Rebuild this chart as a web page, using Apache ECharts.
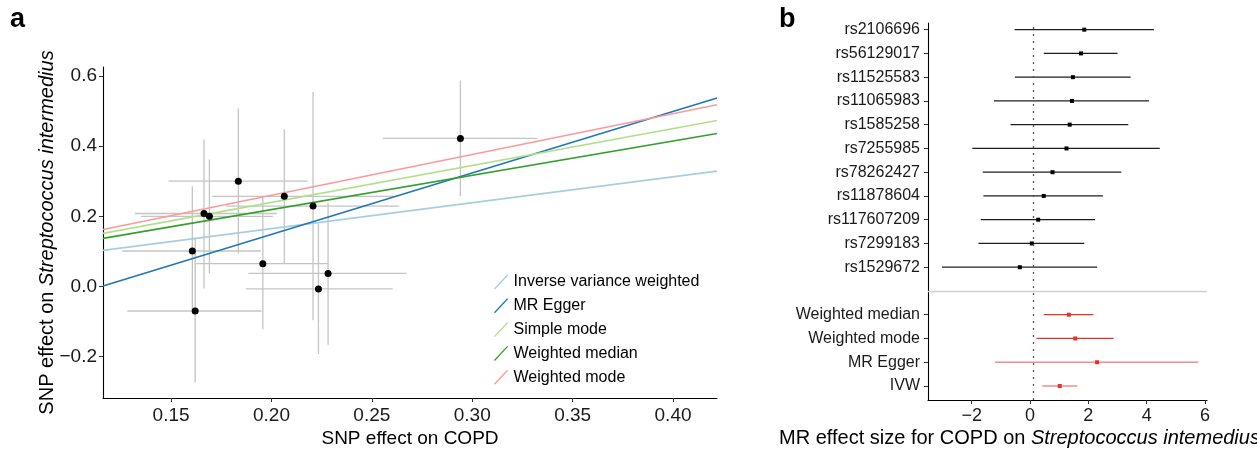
<!DOCTYPE html>
<html>
<head>
<meta charset="utf-8">
<script src="https://cdn.jsdelivr.net/npm/echarts@6/dist/echarts.min.js"></script>
<style>
  html, body { margin: 0; padding: 0; background: #fff; }
  #chart { width: 1257px; height: 451px; }
</style>
</head>
<body>
<div id="chart"></div>
<script>
// ---- panel a: SNP effects ----
const snpX = [0.1606, 0.1664, 0.1691, 0.1835, 0.2064, 0.2207, 0.1957, 0.2282, 0.2234, 0.1620, 0.2941];
const snpY = [0.101, 0.208, 0.200, 0.300, 0.257, 0.229, 0.065, 0.037, -0.007, -0.070, 0.422];
const snpXLo = [0.1257, 0.1320, 0.1349, 0.1487, 0.1706, 0.1774, 0.1624, 0.1885, 0.1872, 0.1282, 0.2554];
const snpXHi = [0.1947, 0.2027, 0.2007, 0.2180, 0.2624, 0.2636, 0.2283, 0.2673, 0.2604, 0.1951, 0.3324];
const snpYLo = [-0.067, -0.006, 0.037, 0.094, 0.067, -0.096, -0.122, -0.167, -0.193, -0.274, 0.257];
const snpYHi = [0.286, 0.419, 0.362, 0.507, 0.448, 0.554, 0.255, 0.238, 0.179, 0.139, 0.587];

const methods = ["Inverse variance weighted", "MR Egger", "Simple mode", "Weighted median", "Weighted mode"];
const slopes = [0.739, 1.753, 1.053, 0.978, 1.164];
const intercepts = [0.017, -0.2025, 0.029, 0.0235, 0.027];

const aXTicks = [0.15, 0.20, 0.25, 0.30, 0.35, 0.40];
const aYTicks = [-0.2, 0.0, 0.2, 0.4, 0.6];

// ---- panel b: forest plot ----
const snpNames = ["rs2106696", "rs56129017", "rs11525583", "rs11065983", "rs1585258", "rs7255985",
  "rs78262427", "rs11878604", "rs117607209", "rs7299183", "rs1529672"];
const snpBeta = [1.86, 1.75, 1.47, 1.44, 1.36, 1.25, 0.77, 0.47, 0.28, 0.06, -0.35];
const snpLo = [-0.53, 0.47, -0.52, -1.24, -0.67, -1.98, -1.62, -1.60, -1.69, -1.77, -3.02];
const snpHi = [4.25, 3.00, 3.45, 4.08, 3.37, 4.45, 3.13, 2.50, 2.23, 1.86, 2.30];

const mrNames = ["Weighted median", "Weighted mode", "MR Egger", "IVW"];
const mrBeta = [1.33, 1.55, 2.30, 1.02];
const mrLo = [0.47, 0.22, -1.20, 0.42];
const mrHi = [2.17, 2.87, 5.77, 1.62];

const bXTicks = [-2, 0, 2, 4, 6];
const refLine = 0.1;

// rows top -> bottom, blank row is the separator
const rowNames = snpNames.concat([""], mrNames);
const rowIndex = (name) => rowNames.length - 1 - rowNames.indexOf(name);
const sepRow = rowIndex("");
const labelRows = rowNames.map((n, i) => rowNames.length - 1 - i).filter((r) => r !== sepRow);

const FONT = "Liberation Sans, Arial, Helvetica, sans-serif";
const minus = (s) => s.replace("-", "\u2212");

const aXMin = 0.1161, aXMax = 0.4219;
const lineColors = ["#a6cee3", "#1f78b4", "#b2df8a", "#33a02c", "#fb9a99"];

const chart = echarts.init(document.getElementById("chart"));

const errBarA = (params, api) => {
  const y = api.value(1), x = api.value(0);
  const l = api.coord([api.value(2), y]), r = api.coord([api.value(3), y]);
  const b = api.coord([x, api.value(4)]), t = api.coord([x, api.value(5)]);
  const st = { stroke: "#c4c4c4", lineWidth: 1.3 };
  return {
    type: "group",
    children: [
      { type: "line", shape: { x1: l[0], y1: l[1], x2: r[0], y2: r[1] }, style: st },
      { type: "line", shape: { x1: b[0], y1: b[1], x2: t[0], y2: t[1] }, style: st },
    ],
  };
};

const errBarB = (color) => (params, api) => {
  const row = api.value(2);
  const l = api.coord([api.value(0), row]), r = api.coord([api.value(1), row]);
  const c = Array.isArray(color) ? color[params.dataIndex] : color;
  return { type: "line", shape: { x1: l[0], y1: l[1], x2: r[0], y2: r[1] }, style: { stroke: c, lineWidth: 1.3 } };
};

const axisCommon = {
  axisLine: { show: true, onZero: false, lineStyle: { color: "#000", width: 1.1 } },
  axisTick: { show: true, length: 4, lineStyle: { color: "#333", width: 1 } },
  splitLine: { show: false },
  nameMoveOverlap: false,
};

const option = {
  animation: false,
  textStyle: { fontFamily: FONT },
  grid: [
    { left: 103, right: 540, top: 67, bottom: 53, containLabel: false, outerBoundsMode: "none" },
    { left: 928, right: 50, top: 23, bottom: 51, containLabel: false, outerBoundsMode: "none" },
  ],
  xAxis: [
    Object.assign({}, axisCommon, {
      type: "value", gridIndex: 0, min: aXMin, max: aXMax,
      axisTick: Object.assign({}, axisCommon.axisTick, { customValues: aXTicks }),
      axisLabel: { customValues: aXTicks, formatter: (v) => v.toFixed(2), fontSize: 19, color: "#1a1a1a", margin: 8, fontFamily: FONT },
      name: "SNP effect on COPD", nameLocation: "middle", nameGap: 31,
      nameTextStyle: { fontSize: 19, color: "#000", fontFamily: FONT },
    }),
    Object.assign({}, axisCommon, {
      type: "value", gridIndex: 1, min: -3.5, max: 6.07,
      axisTick: Object.assign({}, axisCommon.axisTick, { customValues: bXTicks }),
      axisLabel: { customValues: bXTicks, formatter: (v) => minus(String(v)), fontSize: 18, color: "#1a1a1a", margin: 7, fontFamily: FONT },
    }),
  ],
  yAxis: [
    Object.assign({}, axisCommon, {
      type: "value", gridIndex: 0, min: -0.318, max: 0.6256,
      axisTick: Object.assign({}, axisCommon.axisTick, { customValues: aYTicks }),
      axisLabel: { customValues: aYTicks, formatter: (v) => minus(v.toFixed(1)), fontSize: 19, color: "#1a1a1a", margin: 6, fontFamily: FONT },
      name: "SNP effect on {i|Streptococcus intermedius}", nameLocation: "middle", nameGap: 46,
      nameTextStyle: { fontSize: 20, color: "#000", fontFamily: FONT, rich: { i: { fontStyle: "italic", fontSize: 20, fontFamily: FONT } } },
    }),
    Object.assign({}, axisCommon, {
      type: "value", gridIndex: 1, min: -0.59, max: 15.28,
      axisTick: Object.assign({}, axisCommon.axisTick, { customValues: labelRows }),
      axisLabel: {
        customValues: labelRows,
        formatter: (v) => rowNames[rowNames.length - 1 - Math.round(v)],
        fontSize: 16, color: "#1a1a1a", margin: 8, fontFamily: FONT,
      },
    }),
  ],
  legend: {
    orient: "vertical", left: 489, top: 269, itemGap: 7.8, itemWidth: 15, itemHeight: 15,
    icon: "path://M0,15 L14,0 L15,1 L1,16 Z",
    data: methods,
    textStyle: { fontSize: 16, color: "#000", fontFamily: FONT },
  },
  graphic: [
    { type: "text", left: 10, top: 6, style: { text: "a", fontSize: 27, fontWeight: "bold", fill: "#000", fontFamily: FONT } },
    { type: "text", left: 779, top: 6, style: { text: "b", fontSize: 27, fontWeight: "bold", fill: "#000", fontFamily: FONT } },
    {
      type: "text", left: 779, top: 428,
      style: {
        text: "MR effect size for COPD on {i|Streptococcus intemedius}",
        fontSize: 20, fill: "#000", fontFamily: FONT,
        rich: { i: { fontStyle: "italic", fontSize: 20, fontFamily: FONT, fill: "#000" } },
      },
    },
  ],
  series: [
    {
      type: "custom", xAxisIndex: 0, yAxisIndex: 0, z: 1, silent: true,
      renderItem: errBarA,
      encode: { x: [0, 2, 3], y: [1, 4, 5] },
      data: snpX.map((x, i) => [x, snpY[i], snpXLo[i], snpXHi[i], snpYLo[i], snpYHi[i]]),
    },
    ...methods.map((m, k) => ({
      name: m, type: "line", xAxisIndex: 0, yAxisIndex: 0, z: 2,
      showSymbol: false, symbol: "none", clip: true,
      color: lineColors[k],
      itemStyle: { color: lineColors[k] },
      lineStyle: { color: lineColors[k], width: 1.6 },
      data: [aXMin, aXMax].map((x) => [x, intercepts[k] + slopes[k] * x]),
    })),
    {
      type: "scatter", xAxisIndex: 0, yAxisIndex: 0, z: 3, symbol: "circle", symbolSize: 7,
      itemStyle: { color: "#000", opacity: 1 },
      data: snpX.map((x, i) => [x, snpY[i]]),
    },
    // panel b
    {
      type: "custom", xAxisIndex: 1, yAxisIndex: 1, z: 1, silent: true,
      renderItem: errBarB("#1e1e1e"),
      encode: { x: [0, 1], y: 2 },
      data: snpNames.map((n, i) => [snpLo[i], snpHi[i], rowIndex(n)]),
      markLine: {
        silent: true, symbol: "none", label: { show: false },
        data: [
          { yAxis: sepRow, lineStyle: { color: "#cfcfcf", width: 1.4, type: "solid" } },
          { xAxis: refLine, lineStyle: { color: "#555", width: 1.3, type: [2, 5] } },
        ],
      },
    },
    {
      type: "custom", xAxisIndex: 1, yAxisIndex: 1, z: 1, silent: true,
      renderItem: errBarB(["#e2352a", "#e2352a", "rgba(226,53,42,0.55)", "rgba(226,53,42,0.55)"]),
      encode: { x: [0, 1], y: 2 },
      data: mrNames.map((n, i) => [mrLo[i], mrHi[i], rowIndex(n)]),
    },
    {
      type: "scatter", xAxisIndex: 1, yAxisIndex: 1, z: 3, symbol: "rect", symbolSize: 4,
      itemStyle: { color: "#000", opacity: 1 },
      data: snpNames.map((n, i) => [snpBeta[i], rowIndex(n)]),
    },
    {
      type: "scatter", xAxisIndex: 1, yAxisIndex: 1, z: 3, symbol: "rect", symbolSize: 4,
      itemStyle: { color: "#e2352a", opacity: 1 },
      data: mrNames.map((n, i) => [mrBeta[i], rowIndex(n)]),
    },
  ],
};

chart.setOption(option);
</script>
</body>
</html>
